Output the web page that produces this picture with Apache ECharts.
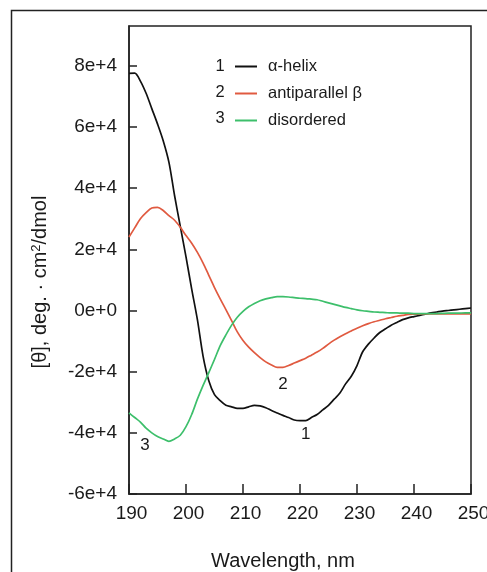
<!DOCTYPE html>
<html>
<head>
<meta charset="utf-8">
<script src="https://cdn.jsdelivr.net/npm/echarts@6/dist/echarts.min.js"></script>
<style>
  html, body { margin: 0; padding: 0; background: #fff; }
  #main { width: 487px; height: 572px; }
</style>
</head>
<body>
<div id="main"></div>
<script>
// wavelength (nm)
var wavelengths = [190, 191, 192, 193, 194, 195, 196, 197, 198, 199,
  200, 201, 202, 203, 204, 205, 206, 207, 208, 209,
  210, 211, 212, 213, 214, 215, 216, 217, 218, 219,
  220, 221, 222, 223, 224, 225, 226, 227, 228, 229,
  230, 231, 232, 233, 234, 235, 236, 237, 238, 239,
  240, 241, 242, 243, 244, 245, 246, 247, 248, 249, 250]

// [θ], deg·cm2/dmol
var alphaHelix = [77500, 77600, 75000, 71000, 66000, 61000, 55500, 48500, 37500, 27500,
  17500, 7000, -3000, -15000, -23000, -27500, -29500, -31000, -31500, -32000,
  -32000, -31500, -31000, -31200, -31800, -32700, -33500, -34300, -35000, -35800,
  -36000, -36000, -35000, -34000, -32500, -31000, -29000, -27000, -24000, -21500,
  -18000, -13500, -11000, -9000, -7200, -6000, -4800, -3900, -3000, -2400,
  -2000, -1600, -1200, -800, -500, -200, 0, 200, 400, 600, 800]

var antiparallelBeta = [24000, 27000, 30000, 32000, 33500, 33700, 32700, 31000, 29500, 27200,
  24500, 22000, 19000, 15500, 11500, 7500, 3800, 300, -3300, -7000,
  -9800, -12000, -13800, -15400, -16800, -17800, -18600, -18600, -18000, -17200,
  -16400, -15600, -14600, -13600, -12400, -11000, -9700, -8600, -7600, -6700,
  -5800, -5000, -4300, -3700, -3200, -2700, -2300, -1900, -1600, -1300,
  -1200, -1150, -1100, -1100, -1100, -1100, -1100, -1100, -1100, -1100, -1100]

var disordered = [-33500, -35000, -36500, -38500, -40000, -41200, -42000, -42800, -42000, -40800,
  -38000, -34000, -29000, -24500, -20300, -16000, -11500, -8000, -4800, -2200,
  -300, 1200, 2300, 3200, 3800, 4200, 4500, 4500, 4400, 4200,
  4000, 3900, 3700, 3500, 3000, 2500, 2000, 1500, 1000, 600,
  200, -100, -300, -500, -600, -700, -800, -800, -900, -900,
  -1000, -1000, -1000, -1000, -1000, -950, -900, -900, -850, -800, -800]

var seriesNames = ['\u03b1-helix', 'antiparallel \u03b2', 'disordered']
var seriesNums = ['1', '2', '3']
var seriesColors = ['#111111', '#e05a40', '#3dbf6b']
var yTicks = [-60000, -40000, -20000, 0, 20000, 40000, 60000, 80000]
var xTicks = [190, 200, 210, 220, 230, 240, 250]

// curve tags: [wavelength, value]
var curveTags = [[221, -40500], [217, -24000], [192.8, -44000]]

function pairs(ys) {
  return wavelengths.map(function (x, i) { return [x, ys[i]] })
}

var font = 'Liberation Sans, Arial, Helvetica, sans-serif'
var chart = echarts.init(document.getElementById('main'))

var allData = [alphaHelix, antiparallelBeta, disordered]
var series = allData.map(function (ys, i) {
  return {
    name: seriesNames[i],
    type: 'line',
    data: pairs(ys),
    showSymbol: false,
    smooth: 0.3,
    lineStyle: { color: seriesColors[i], width: 1.7 },
    itemStyle: { color: seriesColors[i] },
    markPoint: {
      symbol: 'circle',
      symbolSize: 1,
      itemStyle: { color: 'rgba(0,0,0,0)' },
      label: { show: true, position: 'inside', formatter: seriesNums[i], color: '#1a1a1a', fontSize: 17, fontFamily: font },
      data: [{ coord: curveTags[i] }]
    }
  }
})

chart.setOption({
  animation: false,
  backgroundColor: '#fff',
  grid: {
    left: 129, top: 26, right: 16, bottom: 78,
    outerBoundsMode: 'none',
    show: true, borderColor: '#222', borderWidth: 1.5
  },
  legend: {
    data: seriesNames,
    orient: 'vertical',
    left: 235, top: 58,
    padding: 0,
    icon: 'rect',
    itemWidth: 22, itemHeight: 2,
    itemGap: 10,
    textStyle: { fontSize: 16.5, fontFamily: font, color: '#1a1a1a', padding: [0, 0, 0, 6] }
  },
  xAxis: {
    type: 'value',
    min: 190, max: 250, interval: 10,
    axisLine: { onZero: false, lineStyle: { color: '#222', width: 1.5 } },
    axisTick: { inside: true, length: 10, lineStyle: { color: '#222', width: 1.5 }, customValues: xTicks },
    axisLabel: { margin: 10, fontSize: 19, fontFamily: font, color: '#1a1a1a', padding: [0, 0, 0, 5], customValues: xTicks },
    splitLine: { show: false }
  },
  yAxis: {
    type: 'value',
    min: -60000, max: 93000, interval: 20000,
    axisLine: { show: true, lineStyle: { color: '#222', width: 1.5 } },
    axisTick: { show: true, inside: true, length: 8, lineStyle: { color: '#222', width: 1.5 }, customValues: yTicks },
    axisLabel: {
      margin: 12, fontSize: 19, fontFamily: font, color: '#1a1a1a',
      customValues: yTicks,
      formatter: function (v) { return v === 0 ? '0e+0' : (v / 10000) + 'e+4' }
    },
    splitLine: { show: false }
  },
  graphic: [
    {
      type: 'rect', silent: true, z: 0,
      shape: { x: 11.5, y: 10.5, width: 600, height: 700 },
      style: { fill: 'none', stroke: '#222', lineWidth: 1.5 }
    },
    {
      type: 'text', x: 283, y: 561,
      style: { text: 'Wavelength, nm', font: '20px ' + font, fill: '#1a1a1a', textAlign: 'center', textVerticalAlign: 'middle' }
    },
    {
      type: 'text', x: 40, y: 282, rotation: Math.PI / 2,
      style: {
        text: '[\u03b8], deg. \u00b7 cm{sup|2}/dmol',
        font: '20px ' + font, fill: '#1a1a1a', textAlign: 'center', textVerticalAlign: 'middle',
        rich: { sup: { fontSize: 13, fontFamily: font, verticalAlign: 'top', fill: '#1a1a1a' } }
      }
    },
    { type: 'text', x: 220, y: 66, style: { text: seriesNums[0], font: '16.5px ' + font, fill: '#1a1a1a', textAlign: 'center', textVerticalAlign: 'middle' } },
    { type: 'text', x: 220, y: 92, style: { text: seriesNums[1], font: '16.5px ' + font, fill: '#1a1a1a', textAlign: 'center', textVerticalAlign: 'middle' } },
    { type: 'text', x: 220, y: 118, style: { text: seriesNums[2], font: '16.5px ' + font, fill: '#1a1a1a', textAlign: 'center', textVerticalAlign: 'middle' } }
  ],
  series: series
})
</script>
</body>
</html>
